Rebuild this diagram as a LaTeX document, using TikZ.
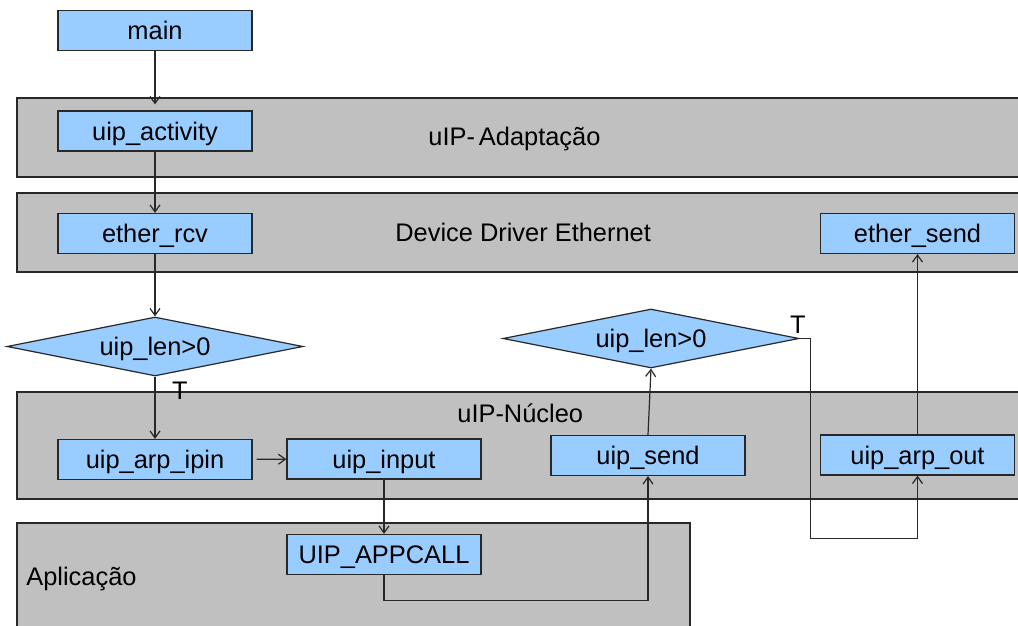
\documentclass[tikz,border=0pt]{standalone}
\usepackage{fontspec}
\setmainfont{Liberation Sans}
\usetikzlibrary{shapes.geometric,arrows.meta}

\definecolor{boxblue}{RGB}{153,204,255}
\definecolor{bandgray}{RGB}{192,192,192}
\definecolor{edge}{RGB}{40,40,40}

\tikzset{
  band/.style={fill=bandgray, draw=edge, line width=0.7pt},
  func/.style={draw=edge, fill=boxblue, line width=0.6pt,
    minimum width=97pt, minimum height=20pt, inner sep=0pt,
    text height=9.1pt, text depth=0pt},
  test/.style={shape=diamond, aspect=5, draw=edge, fill=boxblue,
    line width=0.6pt, minimum width=148pt, minimum height=29.5pt,
    inner sep=0pt, text height=9.1pt, text depth=0pt},
  layer/.style={anchor=base west, inner sep=0pt},
  flag/.style={anchor=base, inner sep=0pt},
  flow/.style={draw=edge, line width=0.6pt,
    -{Straight Barb[length=3.5pt,width=5pt]}},
}

\begin{document}
\begin{tikzpicture}[x=0.5pt,y=-0.5pt,
  every node/.style={font=\fontsize{12.7pt}{15pt}\selectfont}]
\useasboundingbox (0,0) rectangle (1018,626);
\clip (0,0) rectangle (1018,626);

% layers of the stack
\path[band] (17,98)  rectangle (1040,177);
\path[band] (17,193) rectangle (1040,272);
\path[band] (17,392) rectangle (1040,499);
\path[band] (17,523) rectangle (690,660);

\node[layer] (lAdapt)  at (428,146) {uIP-\kern2pt Adaptação};
\node[layer] (lDriver) at (395,242) {Device Driver Ethernet};
\node[layer] (lNucleo) at (457,422) {uIP-Núcleo};
\node[layer] (lApp)    at (26,585)  {Aplicação};

% functions
\node[func] (main)        at (155,30.5)   {main};
\node[func] (activity)    at (155,131)    {uip\_activity};
\node[func] (etherrcv)    at (155,233.5)  {ether\_rcv};
\node[func] (ethersend)   at (917.5,233.5){ether\_send};
\node[func] (arpipin)     at (155,459.5)  {uip\_arp\_ipin};
\node[func] (input)       at (384,459)    {uip\_input};
\node[func] (send)        at (648,455.5)  {uip\_send};
\node[func] (arpout)      at (917.5,455)  {uip\_arp\_out};
\node[func] (appcall)     at (384,554.5)  {UIP\_APPCALL};

% decisions
\node[test] (lenin)  at (155,346.5) {uip\_len>0};
\node[test] (lenout) at (651,338.5) {uip\_len>0};

\node[flag] (tin)  at (180,399) {T};
\node[flag] (tout) at (798,333) {T};

% control flow
\draw[flow, shorten >=3pt] (main) -- (activity);
\draw[flow] (activity) -- (etherrcv);
\draw[flow] (etherrcv) -- (lenin);
\draw[flow] (lenin) -- (arpipin);
\draw[flow, shorten <=2pt] (arpipin) -- (input);
\draw[flow] (input) -- (appcall);
\draw[flow] (appcall.south) -- ++(0,25) -| (send.south);
\draw[flow] (send.north) -- (lenout.south);
\draw[flow] (lenout.east) -- ++(11,0) -- ++(0,200) -| (arpout.south);
\draw[flow] (arpout) -- (ethersend);
\end{tikzpicture}
\end{document}
